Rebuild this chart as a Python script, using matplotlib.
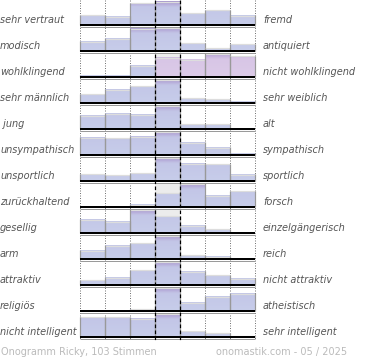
import numpy as np
import matplotlib
matplotlib.use("Agg")
import matplotlib.pyplot as plt
from matplotlib.colors import LinearSegmentedColormap

left_labels = ["sehr vertraut", "modisch", "wohlklingend", "sehr männlich", " jung",
               "unsympathisch", "unsportlich", "zurückhaltend", "gesellig", "arm",
               "attraktiv", "religiös", "nicht intelligent"]
right_labels = ["fremd", "antiquiert", "nicht wohlklingend", "sehr weiblich", "alt",
                "sympathisch", "sportlich", "forsch", "einzelgängerisch", "reich",
                "nicht attraktiv", "atheistisch", "sehr intelligent"]

# share of votes per scale step, relative to the largest step of each row (=100)
values = [
    [43, 36, 93, 100, 51, 63, 40],
    [40, 53, 95, 100, 35, 14, 30],
    [8, 8, 50, 83, 73, 100, 88],
    [39, 57, 72, 100, 22, 18, 7],
    [58, 65, 62, 100, 21, 21, 1],
    [75, 71, 79, 100, 54, 32, 8],
    [31, 27, 35, 100, 75, 71, 29],
    [0, 0, 12, 60, 100, 50, 67],
    [58, 50, 100, 72, 33, 17, 1],
    [36, 58, 67, 100, 18, 11, 1],
    [21, 33, 64, 100, 58, 43, 29],
    [0, 0, 10, 100, 36, 61, 74],
    [85, 85, 79, 100, 26, 17, 5],
]
# bars drawn in the pink tone (row, column)
pink_cells = [(2, 3), (2, 4), (2, 5), (2, 6)]

footer_left = "Onogramm Ricky, 103 Stimmen"
footer_right = "onomastik.com - 05 / 2025"

W, H = 370, 360
fig = plt.figure(figsize=(W / 100, H / 100), dpi=100)
ax = fig.add_axes([0, 0, 1, 1])
ax.set_xlim(0, W)
ax.set_ylim(H, 0)
ax.axis("off")

x0 = 80.0
colw = 25.0
row_h = 26.0
first_base = 25.0
bar_max = 24.0
ncol = 7
px = 0.72  # points per pixel

blue_cmap = LinearSegmentedColormap.from_list(
    "b", [(0, "#a697cc"), (0.12, "#b6acd9"), (0.25, "#c3c6e7"), (1, "#c7cdea")])
pink_cmap = LinearSegmentedColormap.from_list(
    "p", [(0, "#a697cc"), (0.12, "#c5b2dc"), (0.25, "#d8c6e6"), (1, "#dccbe8")])
grad = np.linspace(0, 1, 64).reshape(-1, 1)

xr = x0 + colw * ncol
# vertical dotted grid
for k in range(ncol + 1):
    xx = x0 + colw * k
    if k in (3, 4):
        continue
    ax.vlines(xx, 0, first_base + row_h * (len(values) - 1) + 3, colors="#777777",
              linestyles=(0, (1, 1.5)), lw=px, zorder=1)

for i, row in enumerate(values):
    base = first_base + row_h * i
    # grey background of the middle step
    ax.bar(x0 + colw * 3, -bar_max, bottom=base, width=colw, align="edge",
           color="#ececec", zorder=1.5, linewidth=0)
    for j, v in enumerate(row):
        h = bar_max * v / 100.0
        if h <= 0:
            continue
        xl = x0 + colw * j
        cmap = pink_cmap if (i, j) in pink_cells else blue_cmap
        bars = ax.bar(xl, -h, bottom=base, width=colw, align="edge",
                      color="none", linewidth=0, zorder=2)
        im = ax.imshow(grad, extent=[xl, xl + colw, base, base - bar_max],
                       cmap=cmap, aspect="auto", origin="upper", zorder=2,
                       interpolation="bilinear", vmin=0, vmax=1)
        im.set_clip_path(bars.patches[0])
        # top highlight and side edges
        ax.hlines(base - h + 0.5, xl, xl + colw, colors="#dddddd", lw=1.2 * px, zorder=3)
        ax.vlines([xl, xl + colw], base, base - h, colors="#999999", lw=1.2 * px, zorder=3)
    ax.set_xlim(0, W)
    ax.set_ylim(H, 0)
    # baseline
    ax.hlines(base, x0, xr, colors="black", lw=2 * px, zorder=4)
    ax.hlines(base + 1.5, x0, xr, colors="#9a9a9a", lw=1 * px, zorder=4)
    ax.text(0, base - 5, left_labels[i], ha="left", va="center", fontsize=7,
            style="italic", color="#555555", family="DejaVu Sans")
    ax.text(263, base - 5, right_labels[i], ha="left", va="center", fontsize=7,
            style="italic", color="#555555", family="DejaVu Sans")

# dashed middle column borders
for k in (3, 4):
    ax.vlines(x0 + colw * k, 0, first_base + row_h * (len(values) - 1) + 3,
              colors="black", linestyles=(0, (3, 2)), lw=1.2 * px, zorder=5)

ax.text(1, 352, footer_left, ha="left", va="center", fontsize=7, color="#bbbbbb")
ax.text(347, 352, footer_right, ha="right", va="center", fontsize=7, color="#bbbbbb")

ax.set_xlim(0, W)
ax.set_ylim(H, 0)
fig.savefig("out.png", dpi=100)
